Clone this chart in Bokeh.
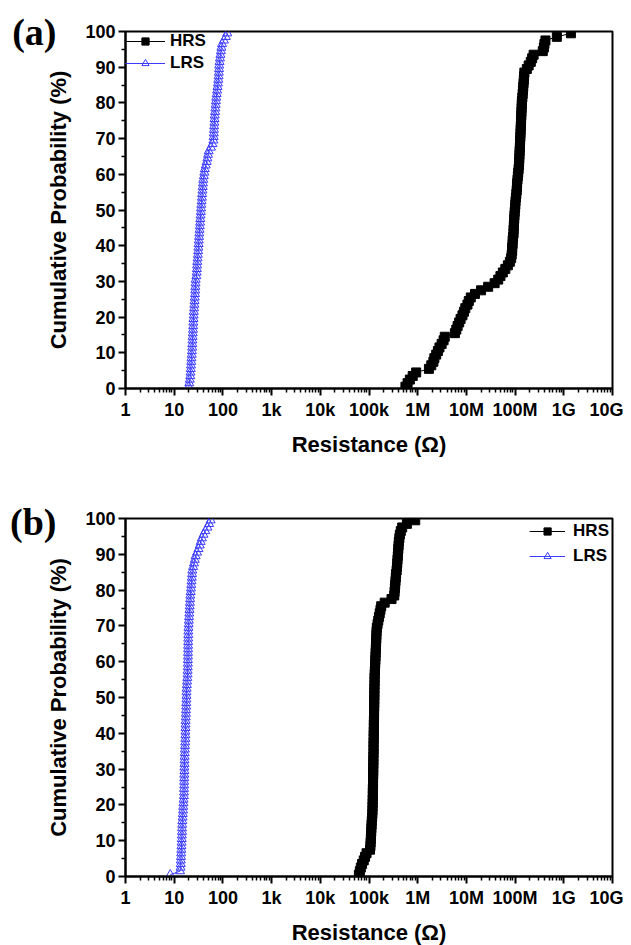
from bokeh.plotting import figure
from bokeh.layouts import column
from bokeh.models import (FixedTicker, CustomJSTickFormatter, Legend, LegendItem,
                          LinearAxis, Range1d)
from bokeh.embed import file_html
from bokeh.resources import INLINE

# ---------------- data ----------------
x_tick_values = [1, 10, 100, 1e3, 1e4, 1e5, 1e6, 1e7, 1e8, 1e9, 1e10]
x_tick_labels = ["1", "10", "100", "1k", "10k", "100k", "1M", "10M", "100M", "1G", "10G"]
y_tick_values = [0, 10, 20, 30, 40, 50, 60, 70, 80, 90, 100]

prob = [0.5, 1.5, 2.5, 3.5, 4.5, 5.5, 6.5, 7.5, 8.5, 9.5,
        10.5, 11.5, 12.5, 13.5, 14.5, 15.5, 16.5, 17.5, 18.5, 19.5,
        20.5, 21.5, 22.5, 23.5, 24.5, 25.5, 26.5, 27.5, 28.5, 29.5,
        30.5, 31.5, 32.5, 33.5, 34.5, 35.5, 36.5, 37.5, 38.5, 39.5,
        40.5, 41.5, 42.5, 43.5, 44.5, 45.5, 46.5, 47.5, 48.5, 49.5,
        50.5, 51.5, 52.5, 53.5, 54.5, 55.5, 56.5, 57.5, 58.5, 59.5,
        60.5, 61.5, 62.5, 63.5, 64.5, 65.5, 66.5, 67.5, 68.5, 69.5,
        70.5, 71.5, 72.5, 73.5, 74.5, 75.5, 76.5, 77.5, 78.5, 79.5,
        80.5, 81.5, 82.5, 83.5, 84.5, 85.5, 86.5, 87.5, 88.5, 89.5,
        90.5, 91.5, 92.5, 93.5, 94.5, 95.5, 96.5, 97.5, 98.5, 99.5]

# (a) resistance values in ohm
a_hrs = [5.6e5, 6.2e5, 6.9e5, 7.9e5, 9.3e5,
         1.7e6, 1.9e6, 2.1e6, 2.2e6, 2.4e6, 2.6e6, 2.8e6, 3.1e6, 3.4e6, 3.6e6,
         5.8e6, 6.2e6, 6.6e6, 7.1e6, 7.6e6, 8.3e6, 8.9e6, 9.5e6, 1.05e7, 1.12e7, 1.23e7,
         1.5e7, 2.0e7, 2.8e7, 3.8e7, 4.5e7, 5.0e7, 5.6e7, 6.3e7, 7.1e7, 7.8e7, 8.3e7,
         8.5e7, 8.7e7, 8.7e7, 8.9e7, 8.9e7, 9.1e7, 9.3e7,
         9.3e7, 9.4e7, 9.5e7, 9.6e7, 9.7e7, 9.8e7, 1.0e8, 1.01e8, 1.02e8,
         1.04e8, 1.06e8, 1.08e8, 1.09e8, 1.1e8, 1.12e8, 1.14e8, 1.16e8, 1.18e8,
         1.2e8, 1.21e8, 1.22e8, 1.23e8, 1.24e8, 1.25e8, 1.26e8, 1.27e8, 1.28e8, 1.29e8,
         1.3e8, 1.31e8, 1.32e8, 1.33e8, 1.34e8, 1.35e8, 1.36e8, 1.37e8, 1.38e8,
         1.41e8, 1.43e8, 1.45e8, 1.47e8, 1.49e8, 1.51e8, 1.53e8, 1.55e8,
         1.74e8, 1.9e8, 2.1e8, 2.24e8, 2.4e8,
         3.7e8, 3.9e8, 4.0e8, 4.2e8,
         7.2e8, 1.4e9]
a_lrs = [20.0, 20.4, 20.9,
         21.4, 21.6, 21.9, 22.1, 22.4, 22.6, 22.9, 23.1, 23.4,
         23.5, 23.7, 23.9, 24.1, 24.3, 24.5, 24.7, 24.9, 25.1,
         25.3, 25.6, 25.9, 26.2, 26.5, 26.8, 27.0, 27.2, 27.4, 27.6,
         28.5, 28.9, 29.2, 29.5, 29.8,
         30.2, 30.6, 31.0, 31.4, 31.8,
         32.0, 32.4, 32.8, 33.2, 33.6, 34.0, 34.4, 34.8, 35.2,
         35.6, 36.0, 36.5, 37.0, 37.5, 38.0, 38.5, 39.0, 39.5,
         40.5, 41.5, 42.5,
         44.5, 46.5, 48.0, 49.5, 51.0,
         57.0, 61.0, 64.0,
         64.5, 65.0, 65.5, 66.0, 67.0, 67.5, 68.0, 69.0, 70.0, 71.0,
         72.0, 73.0, 74.5, 76.0, 77.5, 79.0, 80.5, 81.5, 82.5, 83.5,
         84.0, 85.5, 87.0, 89.0, 91.0, 93.0, 96.0,
         105.0, 115.0, 123.0]

# (b) resistance values in ohm
b_hrs = [6.2e4, 6.5e4, 6.8e4,
         7.2e4, 7.8e4, 8.3e4, 8.9e4,
         1.05e5,
         1.07e5, 1.08e5, 1.09e5, 1.1e5, 1.11e5, 1.12e5, 1.13e5, 1.14e5, 1.16e5, 1.17e5,
         1.18e5, 1.18e5, 1.19e5, 1.19e5, 1.2e5, 1.2e5, 1.2e5, 1.21e5, 1.21e5, 1.21e5,
         1.22e5, 1.22e5, 1.22e5, 1.23e5, 1.23e5, 1.23e5, 1.24e5, 1.24e5, 1.24e5,
         1.24e5, 1.25e5, 1.25e5, 1.25e5, 1.26e5, 1.26e5, 1.26e5, 1.27e5, 1.27e5,
         1.27e5, 1.28e5, 1.28e5, 1.28e5, 1.29e5, 1.29e5, 1.29e5, 1.3e5, 1.3e5,
         1.3e5, 1.31e5, 1.32e5, 1.33e5, 1.34e5, 1.35e5, 1.36e5, 1.37e5, 1.38e5,
         1.39e5, 1.4e5, 1.41e5, 1.42e5, 1.43e5,
         1.45e5, 1.5e5, 1.55e5, 1.6e5, 1.66e5, 1.72e5,
         1.78e5, 2.1e5,
         2.9e5,
         3.3e5, 3.35e5, 3.4e5, 3.45e5, 3.5e5,
         3.55e5, 3.6e5, 3.7e5, 3.75e5, 3.8e5,
         3.85e5, 3.9e5, 3.95e5, 4.0e5, 4.05e5, 4.1e5,
         4.2e5, 4.3e5, 4.5e5, 4.8e5, 6.0e5, 8.9e5]
b_lrs = [8.3,
         13.2,
         13.5, 13.6, 13.7, 13.8, 13.9, 14.0, 14.1, 14.2, 14.3, 14.4, 14.5, 14.5,
         14.6, 14.7, 14.9, 15.0, 15.2, 15.3, 15.5, 15.6, 15.8, 15.9,
         15.9, 16.0, 16.0, 16.1, 16.1, 16.2, 16.2, 16.3, 16.3,
         16.4, 16.5, 16.6, 16.7, 16.8, 16.9, 17.0, 17.0, 17.1, 17.1,
         17.2, 17.3, 17.4, 17.5, 17.6, 17.7, 17.8, 17.9, 17.9,
         18.0, 18.2, 18.4, 18.6, 18.8, 18.9, 19.0, 19.1, 19.1,
         19.2, 19.2, 19.3, 19.3, 19.4, 19.4, 19.5, 19.5, 19.6,
         19.8, 20.0, 20.2, 20.4, 20.6, 20.8, 21.0, 21.2, 21.4,
         21.8, 22.1, 22.4, 22.7, 23.0, 23.3, 23.5,
         24.5, 25.5, 26.5, 27.5,
         29.5, 31.5, 33.5, 35.0,
         37.0, 40.0, 43.5,
         48.0, 52.0, 56.0]

HRS_COLOR = "black"
LRS_COLOR = "#3c3cff"
FONT = "Liberation Sans"

minor_x = [m * 10 ** e for e in range(0, 10) for m in range(2, 10)]
minor_y = [v + 5 for v in y_tick_values[:-1]]


def make_panel(hrs, lrs, panel_text, tag_y, legend_loc, top, bottom, fh,
               legend_margin, legend_spacing, glyph_w, standoff):
    p = figure(x_axis_type="log", x_range=Range1d(1, 1e10), y_range=Range1d(0, 100),
               frame_width=487, frame_height=fh,
               min_border_left=125, min_border_right=11,
               min_border_top=top, min_border_bottom=bottom,
               output_backend="svg", toolbar_location=None)
    p.xgrid.visible = False
    p.ygrid.visible = False
    p.outline_line_color = "black"
    p.outline_line_width = 2
    p.background_fill_color = "white"
    p.border_fill_color = "white"

    l1 = p.line(hrs, prob, line_color=HRS_COLOR, line_width=1)
    s1 = p.scatter(hrs, prob, marker="square", size=9, fill_color=HRS_COLOR,
                   line_color=HRS_COLOR)
    l2 = p.line(lrs, prob, line_color=LRS_COLOR, line_width=1)
    s2 = p.scatter(lrs, prob, marker="triangle", size=9, fill_alpha=0,
                   line_color=LRS_COLOR, line_width=1)

    legend = Legend(items=[LegendItem(label="HRS", renderers=[l1, s1]),
                           LegendItem(label="LRS", renderers=[l2, s2])],
                    location=legend_loc, margin=legend_margin, padding=0,
                    spacing=legend_spacing, glyph_width=glyph_w, glyph_height=18,
                    label_height=18, label_standoff=standoff,
                    label_text_font=FONT, label_text_font_style="bold",
                    label_text_font_size="17px", label_text_color="black",
                    background_fill_alpha=0, border_line_alpha=0)
    p.add_layout(legend)

    xa = p.xaxis[0]
    xa.ticker = FixedTicker(ticks=x_tick_values, minor_ticks=minor_x)
    xa.formatter = CustomJSTickFormatter(
        args=dict(labels=x_tick_labels),
        code="return labels[Math.round(Math.log10(tick))];")
    xa.axis_label = "Resistance (\u03a9)"
    ya = p.yaxis[0]
    ya.ticker = FixedTicker(ticks=y_tick_values, minor_ticks=minor_y)
    ya.axis_label = "Cumulative Probability (%)"

    for ax in (xa, ya):
        ax.axis_line_width = 2
        ax.axis_line_color = "black"
        ax.major_tick_line_width = 2
        ax.minor_tick_line_width = 1.5
        ax.major_tick_out = 7
        ax.major_tick_in = 0
        ax.minor_tick_out = 4
        ax.minor_tick_in = 0
        ax.major_label_text_font = FONT
        ax.major_label_text_font_style = "bold"
        ax.major_label_text_font_size = "18px"
        ax.major_label_text_color = "black"
        ax.axis_label_text_font = FONT
        ax.axis_label_text_font_style = "bold"
        ax.axis_label_text_font_size = "22px"
        ax.axis_label_text_color = "black"
    xa.major_label_standoff = 4
    xa.axis_label_standoff = 9
    ya.major_label_standoff = 3
    ya.axis_label_standoff = 11

    # panel tag "(a)" / "(b)": an unlined extra left axis with one labelled tick
    tag_axis = LinearAxis(
        ticker=FixedTicker(ticks=[tag_y], minor_ticks=[]),
        formatter=CustomJSTickFormatter(args=dict(tag=panel_text), code="return tag;"),
        axis_line_color=None, major_tick_line_color=None, minor_tick_line_color=None,
        major_tick_out=0, major_tick_in=0, minor_tick_out=0, minor_tick_in=0,
        major_label_standoff=-13,
        major_label_text_font="Liberation Serif", major_label_text_font_style="bold",
        major_label_text_font_size="38px", major_label_text_color="black")
    p.add_layout(tag_axis, "left")
    return p


pa = make_panel(a_hrs, a_lrs, "(a)", 100.0, "top_left", 31, 90, 357, 0, 2, 40, 5)
pb = make_panel(b_hrs, b_lrs, "(b)", 99.1, "top_right", 40, 67, 358, 3, 5, 36, 8)

layout = column(pa, pb, spacing=0)
open("out.html", "w").write(file_html(layout, INLINE))
